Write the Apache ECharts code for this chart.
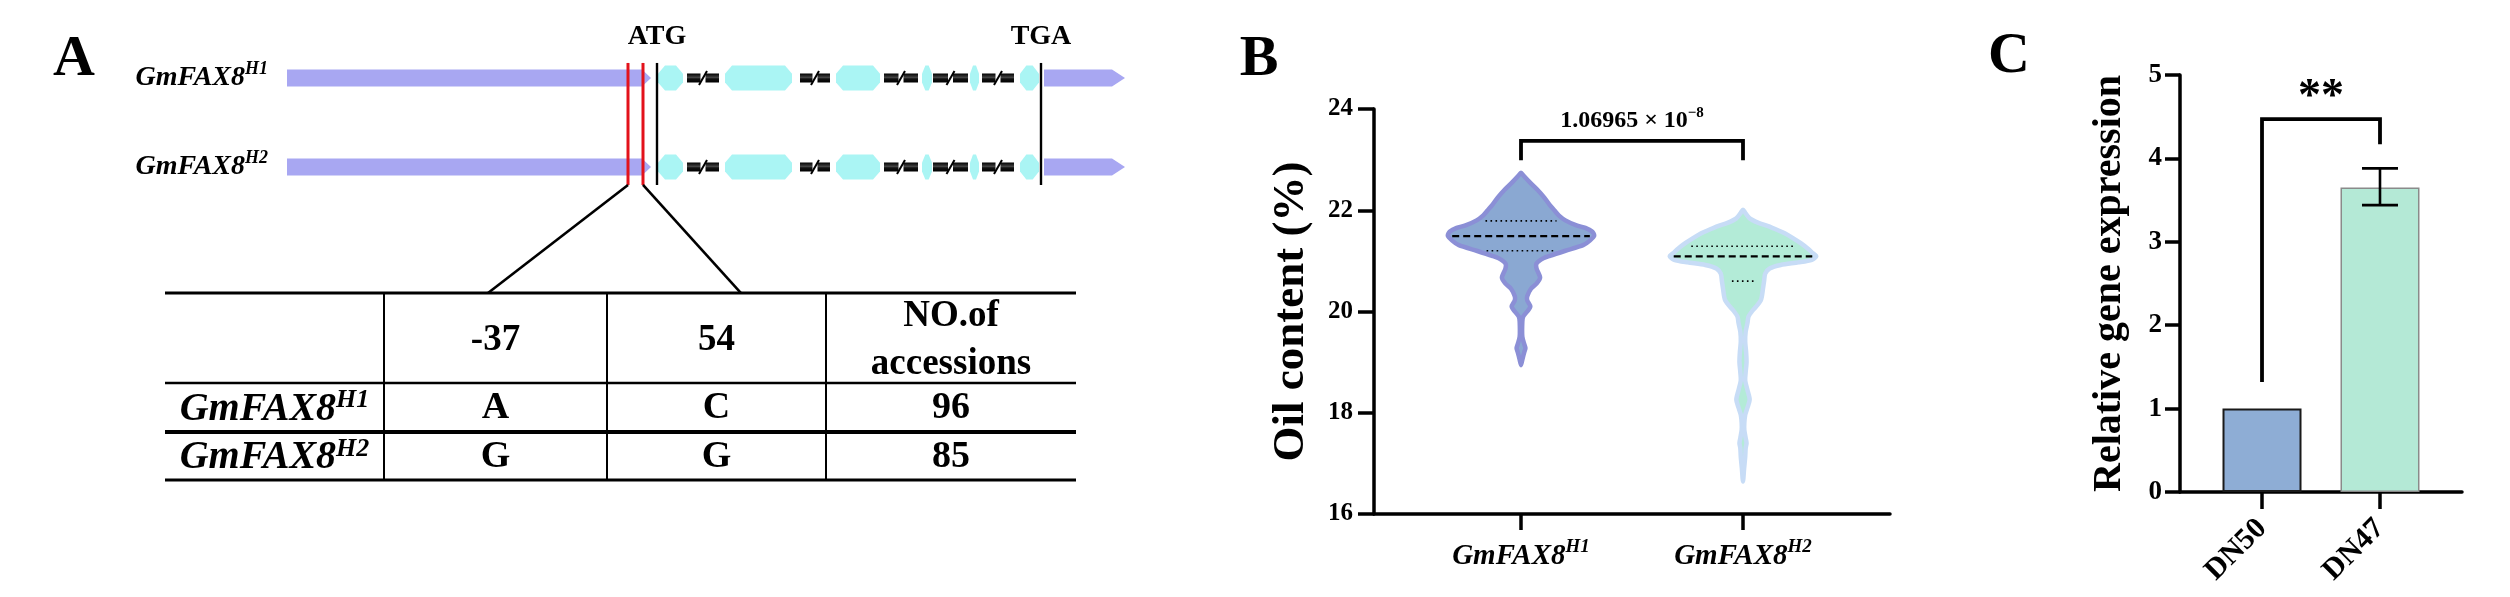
<!DOCTYPE html>
<html><head><meta charset="utf-8">
<script src="https://cdn.jsdelivr.net/npm/echarts@6/dist/echarts.min.js"></script>
<style>html,body{margin:0;padding:0;background:#fff;}#c{width:2510px;height:597px;}</style>
</head><body><div id="c"></div>
<script>
const FONT = '"Liberation Serif","Times New Roman",serif';

// ---------- Panel A data (schematic units along the gene) ----------
const geneName = 'GmFAX8';
const haplotypes = ['H1', 'H2'];
const utrSegments = [[0, 355, 364], [757, 825, 838]];     // start, body end, arrow tip
const exons = [[371, 396], [438, 505], [549, 593], [635, 645], [683, 692], [733, 752]];
const intronBreaks = [[400, 432], [513, 543], [597, 631], [646, 681], [695, 727]];
const snpPositions = [341, 356];
const zoomTargets = [201, 454];
const codonMarks = [['ATG', 370], ['TGA', 754]];
const tableHeader = ['', '-37', '54', 'NO.of\naccessions'];
const tableRows = [['H1', 'A', 'C', '96'], ['H2', 'G', 'G', '85']];

// ---------- Panel B data ----------
const violinCats = ['H1', 'H2'];
const violin1Y = [22.74, 22.68, 22.55, 22.40, 22.25, 22.10, 22.00, 21.90, 21.80, 21.70, 21.65, 21.58, 21.50, 21.40, 21.31, 21.20, 21.10, 21.05, 20.95, 20.85, 20.67, 20.55, 20.45, 20.30, 20.22, 20.10, 20.00, 19.90, 19.80, 19.50, 19.35, 19.28, 19.20, 19.05, 18.94];
const violin1W = [0, 0.012, 0.04, 0.075, 0.105, 0.13, 0.15, 0.17, 0.20, 0.25, 0.29, 0.32, 0.33, 0.31, 0.28, 0.20, 0.13, 0.10, 0.07, 0.07, 0.086, 0.07, 0.045, 0.028, 0.028, 0.042, 0.028, 0.01, 0.006, 0.006, 0.015, 0.02, 0.015, 0.006, 0];
const violin2Y = [22.01, 21.95, 21.84, 21.75, 21.69, 21.60, 21.54, 21.45, 21.35, 21.25, 21.15, 21.09, 21.02, 20.97, 20.92, 20.85, 20.75, 20.60, 20.45, 20.30, 20.22, 20.10, 20.00, 19.90, 19.77, 19.60, 19.40, 19.20, 19.00, 18.80, 18.64, 18.45, 18.26, 18.10, 17.96, 17.80, 17.66, 17.50, 17.40, 17.30, 17.13, 16.90, 16.64];
const violin2W = [0, 0.01, 0.03, 0.07, 0.11, 0.16, 0.19, 0.225, 0.26, 0.29, 0.315, 0.33, 0.31, 0.25, 0.17, 0.12, 0.10, 0.095, 0.09, 0.085, 0.08, 0.06, 0.04, 0.025, 0.02, 0.012, 0.01, 0.014, 0.016, 0.012, 0.01, 0.02, 0.03, 0.02, 0.01, 0.006, 0.006, 0.012, 0.016, 0.012, 0.01, 0.005, 0];
const violinQuartiles = [[21.20, 21.49, 21.79], [20.60, 21.09, 21.29]];
const oilTicks = [16, 24, 2];
const pValueText = ['1.06965 × 10', '−8'];
const bracketB = [[1, 2, 23.37, 22.99, 22.99]];
const pLabelY = 23.76;

// ---------- Panel C data ----------
const barCats = ['DN50', 'DN47'];
const barValues = [1.0, 3.65];
const barErrors = [[2, 3.44, 3.88]];
const bracketC = [[1, 2, 4.47, 1.32, 4.17]];
const starLabel = '**';
const starLabelY = 4.72;

// ---------- helpers ----------
const violinColors = [
  {fill: '#8aa8d2', stroke: '#8b8fd6'},
  {fill: '#b3ebd7', stroke: '#c7dcf6'}
];
const barColors = [
  {color: '#8eadd5', borderColor: '#1a1a1a', borderWidth: 2},
  {color: '#b4e9d6', borderColor: '#8a8a8a', borderWidth: 1.5}
];

function interpW(ys, ws, y) {
  for (let k = 0; k < ys.length - 1; k++) {
    if ((y <= ys[k] && y >= ys[k + 1])) {
      const t = (ys[k] - y) / (ys[k] - ys[k + 1]);
      return ws[k] + t * (ws[k + 1] - ws[k]);
    }
  }
  return 0;
}

function supRich(size, supSize, italic, bold, lh) {
  return {
    b: {fontFamily: FONT, fontSize: size, fontWeight: bold ? 'bold' : 'normal', fontStyle: italic ? 'italic' : 'normal', color: '#000', lineHeight: lh},
    s: {fontFamily: FONT, fontSize: supSize, fontWeight: bold ? 'bold' : 'normal', fontStyle: italic ? 'italic' : 'normal', color: '#000', lineHeight: supSize, verticalAlign: 'top'}
  };
}
const supRichSmall = supRich(29, 19, true, true, 38);
const supRichGene = supRich(28, 18, true, true, 36);
const supRichTable = supRich(40, 26, true, true, 44);
const supRichP = supRich(24, 15, false, true, 32);

// ---------- renderers ----------
function violinRender(params, api) {
  const i = params.dataIndex;
  const ys = i === 0 ? violin1Y : violin2Y;
  const ws = i === 0 ? violin1W : violin2W;
  const xc = api.value(0);
  const band = api.size([1, 0])[0];
  const left = [], right = [];
  for (let k = 0; k < ys.length; k++) {
    const p = api.coord([xc, ys[k]]);
    left.push([p[0] - ws[k] * band, p[1]]);
    right.push([p[0] + ws[k] * band, p[1]]);
  }
  const pts = left.concat(right.slice(1, right.length - 1).reverse());
  const children = [{
    type: 'polygon',
    shape: {points: pts, smooth: 0.25},
    style: {fill: violinColors[i].fill, stroke: violinColors[i].stroke, lineWidth: 4.5, lineJoin: 'round'}
  }];
  const q = violinQuartiles[i];
  q.forEach((qy, j) => {
    const w = interpW(ys, ws, qy) * band - (j === 1 ? 4 : 10);
    const p = api.coord([xc, qy]);
    children.push({
      type: 'line',
      shape: {x1: p[0] - w, y1: p[1], x2: p[0] + w, y2: p[1]},
      style: j === 1 ? {stroke: '#000', lineWidth: 2.2, lineDash: [7, 4]} : {stroke: '#000', lineWidth: 1.6, lineDash: [1.6, 3.4]}
    });
  });
  return {type: 'group', children};
}

function bracketRender(textParts, textY, rich, isStar) {
  return function (params, api) {
    const x1 = api.value(0), x2 = api.value(1), yt = api.value(2), yl = api.value(3), yr = api.value(4);
    const a = api.coord([x1, yl]), b = api.coord([x1, yt]), c = api.coord([x2, yt]), d = api.coord([x2, yr]);
    const m = api.coord([(x1 + x2) / 2, textY]);
    const txt = isStar
      ? {type: 'text', x: m[0], y: m[1], style: {text: textParts, font: 'bold 46px ' + FONT, fill: '#000', align: 'center', verticalAlign: 'middle'}}
      : {type: 'text', x: m[0], y: m[1], style: {text: '{b|' + textParts[0] + '}{s|' + textParts[1] + '}', rich: rich, align: 'center', verticalAlign: 'middle'}};
    return {
      type: 'group',
      children: [
        {type: 'polyline', shape: {points: [a, b, c, d]}, style: {stroke: '#000', lineWidth: 3.8, fill: null}},
        txt
      ]
    };
  };
}

function errorRender(params, api) {
  const x = api.value(0);
  const lo = api.coord([x, api.value(1)]);
  const hi = api.coord([x, api.value(2)]);
  const cap = 18;
  return {
    type: 'group',
    children: [
      {type: 'line', shape: {x1: lo[0], y1: lo[1], x2: hi[0], y2: hi[1]}, style: {stroke: '#000', lineWidth: 2.6}},
      {type: 'line', shape: {x1: lo[0] - cap, y1: lo[1], x2: lo[0] + cap, y2: lo[1]}, style: {stroke: '#000', lineWidth: 2.6}},
      {type: 'line', shape: {x1: hi[0] - cap, y1: hi[1], x2: hi[0] + cap, y2: hi[1]}, style: {stroke: '#000', lineWidth: 2.6}}
    ]
  };
}

function geneRowRender(params, api) {
  const row = api.value(1);
  const P = u => api.coord([u, row]);
  const yc = P(0)[1];
  const children = [];
  const utrH = 17, exonH = 25, brkH = 9;
  utrSegments.forEach(([s, e, t]) => {
    const a = P(s)[0], b = P(e)[0], c = P(t)[0];
    children.push({type: 'polygon', shape: {points: [[a, yc - utrH / 2], [b, yc - utrH / 2], [c, yc], [b, yc + utrH / 2], [a, yc + utrH / 2]]}, style: {fill: '#a8a7f2'}});
  });
  exons.forEach(([s, e]) => {
    const a = P(s)[0], b = P(e)[0];
    const d = Math.min(7, (b - a) / 3), h = exonH / 2;
    children.push({type: 'polygon', shape: {points: [[a, yc - h * 0.35], [a + d, yc - h], [b - d, yc - h], [b, yc - h * 0.35], [b, yc + h * 0.35], [b - d, yc + h], [a + d, yc + h], [a, yc + h * 0.35]]}, style: {fill: '#aaf5f4'}});
  });
  intronBreaks.forEach(([s, e]) => {
    const a = P(s)[0], b = P(e)[0], m = (a + b) / 2;
    const grad = new echarts.graphic.LinearGradient(0, 0, 0, 1, [
      {offset: 0, color: '#000'}, {offset: 0.45, color: '#444'}, {offset: 0.6, color: '#111'}, {offset: 1, color: '#000'}
    ]);
    children.push({type: 'rect', shape: {x: a, y: yc - brkH / 2, width: m - 2.5 - a, height: brkH}, style: {fill: grad}});
    children.push({type: 'rect', shape: {x: m + 2.5, y: yc - brkH / 2, width: b - m - 2.5, height: brkH}, style: {fill: grad}});
    children.push({type: 'line', shape: {x1: m - 4, y1: yc + 7, x2: m + 4, y2: yc - 7}, style: {stroke: '#000', lineWidth: 2}});
  });
  const lp = P(-19);
  children.push({type: 'text', x: lp[0], y: yc, style: {text: '{b|' + geneName + '}{s|' + haplotypes[params.dataIndex] + '}', rich: supRichGene, align: 'right', verticalAlign: 'middle'}});
  return {type: 'group', children};
}

const LINE_TOP = 0.831, LINE_BOTTOM = 2.202, TABLE_TOP = 3.416, CODON_LABEL_Y = 0.539;
function markerRender(params, api) {
  const C = (u, v) => api.coord([u, v]);
  const children = [];
  codonMarks.forEach(([name, u]) => {
    const a = C(u, LINE_TOP), b = C(u, LINE_BOTTOM), t = C(u, CODON_LABEL_Y);
    children.push({type: 'line', shape: {x1: a[0], y1: a[1], x2: b[0], y2: b[1]}, style: {stroke: '#000', lineWidth: 2.4}});
    children.push({type: 'text', x: t[0], y: t[1], style: {text: name, font: 'bold 28px ' + FONT, fill: '#000', align: 'center', verticalAlign: 'middle'}});
  });
  snpPositions.forEach((u, i) => {
    const a = C(u, LINE_TOP), b = C(u, LINE_BOTTOM), z = C(zoomTargets[i], TABLE_TOP);
    children.push({type: 'line', shape: {x1: a[0], y1: a[1], x2: b[0], y2: b[1]}, style: {stroke: '#e3121b', lineWidth: 3}});
    children.push({type: 'line', shape: {x1: b[0], y1: b[1], x2: z[0], y2: z[1]}, style: {stroke: '#000', lineWidth: 2.6}});
  });
  return {type: 'group', children};
}

// ---------- table (graphic) ----------
const tblX = [165, 384, 607, 826, 1076];
const tblY = [293, 383, 432, 480];
const tblLineW = [3, 2.6, 4, 3];
const graphics = [];
tblY.forEach((y, i) => graphics.push({type: 'line', shape: {x1: tblX[0], y1: y, x2: tblX[4], y2: y}, style: {stroke: '#000', lineWidth: tblLineW[i]}}));
for (let i = 1; i < 4; i++) graphics.push({type: 'line', shape: {x1: tblX[i], y1: tblY[0], x2: tblX[i], y2: tblY[3]}, style: {stroke: '#000', lineWidth: 2}});
tableHeader.forEach((t, i) => {
  if (!t) return;
  graphics.push({type: 'text', x: (tblX[i] + tblX[i + 1]) / 2, y: (tblY[0] + tblY[1]) / 2 + 2,
    style: {text: t, font: 'bold 37px ' + FONT, lineHeight: 48, fill: '#000', align: 'center', verticalAlign: 'middle'}});
});
tableRows.forEach((row, r) => {
  const yc = (tblY[r + 1] + tblY[r + 2]) / 2 + 1;
  row.forEach((t, i) => {
    const x = (tblX[i] + tblX[i + 1]) / 2;
    if (i === 0) {
      graphics.push({type: 'text', x, y: yc + 1, style: {text: '{b|' + geneName + '}{s|' + t + '}', rich: supRichTable, align: 'center', verticalAlign: 'middle'}});
    } else {
      graphics.push({type: 'text', x, y: yc, style: {text: t, font: 'bold 38px ' + FONT, fill: '#000', align: 'center', verticalAlign: 'middle'}});
    }
  });
});
[['A', 74, 60], ['B', 1259, 60], ['C', 2009, 57]].forEach(([t, x, y]) => {
  graphics.push({type: 'text', x, y, style: {text: t, font: 'bold 58px ' + FONT, fill: '#000', align: 'center', verticalAlign: 'middle'}});
});

// ---------- option ----------
const axisLineStyle = {color: '#000', width: 3.5};
const tickLabelStyle = (size) => ({fontFamily: FONT, fontSize: size, fontWeight: 'bold', color: '#000'});

const option = {
  animation: false,
  backgroundColor: '#fff',
  graphic: graphics,
  grid: [
    {left: 1374, top: 109, width: 516, height: 405},
    {left: 2180, top: 75, width: 282, height: 417},
    {left: 287, top: 33.5, width: 838, height: 267}
  ],
  xAxis: [
    {
      gridIndex: 0, type: 'value', min: 0.3378, max: 2.6622,
      axisLine: {onZero: false, lineStyle: axisLineStyle},
      axisTick: {customValues: [1, 2], length: 16, lineStyle: {color: '#000', width: 3.5}},
      axisLabel: {customValues: [1, 2], margin: 24, formatter: v => '{b|' + geneName + '}{s|' + violinCats[Math.round(v) - 1] + '}', rich: supRichSmall},
      splitLine: {show: false}
    },
    {
      gridIndex: 1, type: 'value', min: 0.305, max: 2.695,
      axisLine: {onZero: false, lineStyle: axisLineStyle},
      axisTick: {customValues: [1, 2], length: 17, lineStyle: {color: '#000', width: 3.5}},
      axisLabel: {customValues: [1, 2], margin: 32, rotate: 45, formatter: v => barCats[Math.round(v) - 1], ...tickLabelStyle(30)},
      splitLine: {show: false}
    },
    {gridIndex: 2, type: 'value', min: 0, max: 838, show: false}
  ],
  yAxis: [
    {
      gridIndex: 0, type: 'value', min: oilTicks[0], max: oilTicks[1], interval: oilTicks[2],
      name: 'Oil content (%)', nameLocation: 'middle', nameRotate: 90, nameGap: 60,
      nameTextStyle: {fontFamily: FONT, fontSize: 45, fontWeight: 'bold', color: '#000'},
      axisLine: {show: true, onZero: false, lineStyle: axisLineStyle},
      axisTick: {show: true, length: 16, lineStyle: {color: '#000', width: 3.5}},
      axisLabel: {margin: 21, ...tickLabelStyle(25)},
      splitLine: {show: false}
    },
    {
      gridIndex: 1, type: 'value', min: 0, max: 5, interval: 1,
      name: 'Relative gene expression', nameLocation: 'middle', nameRotate: 90, nameGap: 50,
      nameTextStyle: {fontFamily: FONT, fontSize: 40, fontWeight: 'bold', color: '#000'},
      axisLine: {show: true, onZero: false, lineStyle: axisLineStyle},
      axisTick: {show: true, length: 15, lineStyle: {color: '#000', width: 3.5}},
      axisLabel: {margin: 18, ...tickLabelStyle(27)},
      splitLine: {show: false}
    },
    {gridIndex: 2, type: 'value', min: 0.5, max: 3.5, inverse: true, show: false}
  ],
  series: [
    {
      type: 'custom', xAxisIndex: 0, yAxisIndex: 0, renderItem: violinRender,
      data: [[1, violinQuartiles[0][1]], [2, violinQuartiles[1][1]]], encode: {x: 0, y: 1}, z: 3
    },
    {
      type: 'custom', xAxisIndex: 0, yAxisIndex: 0, renderItem: bracketRender(pValueText, pLabelY, supRichP, false),
      data: bracketB, encode: {x: [0, 1], y: [2, 3, 4]}, z: 4
    },
    {
      type: 'bar', xAxisIndex: 1, yAxisIndex: 1, barWidth: 79,
      data: barValues.map((v, i) => ({value: [i + 1, v], itemStyle: barColors[i]})), z: 3
    },
    {
      type: 'custom', xAxisIndex: 1, yAxisIndex: 1, renderItem: errorRender,
      data: barErrors, encode: {x: 0, y: [1, 2]}, z: 4
    },
    {
      type: 'custom', xAxisIndex: 1, yAxisIndex: 1, renderItem: bracketRender(starLabel, starLabelY, null, true),
      data: bracketC, encode: {x: [0, 1], y: [2, 3, 4]}, z: 4
    },
    {
      type: 'custom', xAxisIndex: 2, yAxisIndex: 2, renderItem: geneRowRender,
      data: haplotypes.map((h, i) => [0, i + 1]), encode: {x: 0, y: 1}, z: 3
    },
    {
      type: 'custom', xAxisIndex: 2, yAxisIndex: 2, renderItem: markerRender,
      data: [[0, 1]], encode: {x: 0, y: 1}, z: 5
    }
  ]
};

const chart = echarts.init(document.getElementById('c'), null, {renderer: 'canvas'});
chart.setOption(option);
</script>
</body></html>
